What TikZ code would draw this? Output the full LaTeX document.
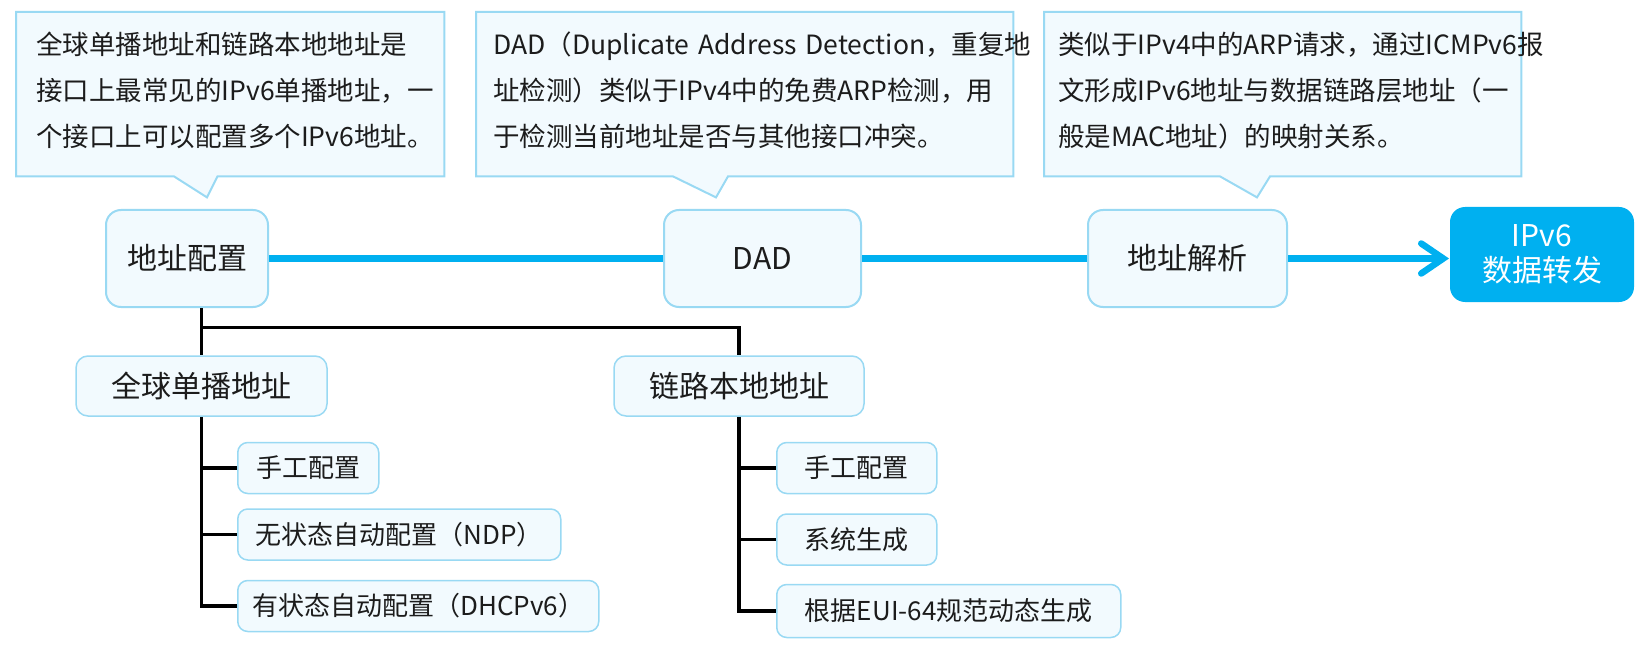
\documentclass[tikz,border=0pt]{standalone}
\usepackage{fontspec}
\setmainfont{Noto Sans CJK SC}
\usetikzlibrary{positioning,arrows.meta,backgrounds,calc}
\definecolor{edge}{RGB}{153,217,243}
\definecolor{pale}{RGB}{242,250,254}
\definecolor{sky}{RGB}{0,176,240}
\definecolor{ink}{RGB}{28,28,28}
\hyphenpenalty=10000

\begin{document}
\begin{tikzpicture}[
  x=1pt, y=-1pt, >={Straight Barb[length=22pt, width=30pt, line cap=round]},
  box/.style={draw=edge, line width=2pt, fill=pale, rounded corners=15pt, text=ink,
              font=\fontsize{30}{36}\selectfont, minimum height=97pt},
  sub/.style={box, rounded corners=12pt, line width=1.5pt, minimum height=60pt},
  leaf/.style={box, rounded corners=10pt, line width=1.5pt, minimum height=51pt,
               font=\fontsize{26}{30}\selectfont},
  note/.style={text=ink, font=\fontsize{26.5}{46}\selectfont, align=left,
               anchor=north west, inner ysep=0pt, minimum height=156pt},
  notebg/.style={draw=edge, line width=2pt, fill=pale},
  flow/.style={draw=sky, line width=6.5pt},
  tree/.style={draw=black, line width=3.5pt},
]
  \useasboundingbox (0,0) rectangle (1646,647);

  % main chain
  \node[box, minimum width=162pt] (cfg) at (187,258.5) {地址配置};
  \node[box, minimum width=197pt, right=394pt of cfg] (dad) {DAD};
  \node[box, minimum width=199pt, right=225pt of dad] (res) {地址解析};
  \node[box, draw=none, fill=sky, text=white, align=center, minimum width=184pt,
        minimum height=95pt, font=\fontsize{30}{35}\selectfont,
        right=161pt of res, yshift=4pt] (fwd) {IPv6\\数据转发};

  \draw[flow] (cfg.east) -- (dad.west);
  \draw[flow] (dad.east) -- (res.west);
  \draw[flow, ->] (res.east) -- (res.east -| fwd.west);

  % notes above the chain (frame runs 8pt below the text box)
  \node[note, text width=388pt, inner xsep=20pt] (cfgnote) at (16,12)
        {全球单播地址和链路本地地址是\\接口上最常见的IPv6单播地址，一\\个接口上可以配置多个IPv6地址。};
  \node[note, text width=503pt, inner xsep=17pt] (dadnote) at (476,12)
        {DAD（Duplicate~Address~Detection，重复地\\址检测）类似于IPv4中的免费ARP检测，用\\于检测当前地址是否与其他接口冲突。};
  \node[note, text width=449pt, inner xsep=14pt] (resnote) at (1044,12)
        {类似于IPv4中的ARP请求，通过ICMPv6报\\文形成IPv6地址与数据链路层地址（一\\般是MAC地址）的映射关系。};
  \begin{scope}[on background layer]
    \draw[notebg] (cfgnote.north west) -- (cfgnote.north east) -- ([yshift=-8pt]cfgnote.south east)
      -- ([xshift=201.5pt, yshift=-8pt]cfgnote.south west) -- ([xshift=191pt, yshift=-29pt]cfgnote.south west)
      -- ([xshift=158pt, yshift=-8pt]cfgnote.south west) -- ([yshift=-8pt]cfgnote.south west) -- cycle;
    \draw[notebg] (dadnote.north west) -- (dadnote.north east) -- ([yshift=-8pt]dadnote.south east)
      -- ([xshift=252pt, yshift=-8pt]dadnote.south west) -- ([xshift=240pt, yshift=-29pt]dadnote.south west)
      -- ([xshift=197pt, yshift=-8pt]dadnote.south west) -- ([yshift=-8pt]dadnote.south west) -- cycle;
    \draw[notebg] (resnote.north west) -- (resnote.north east) -- ([yshift=-8pt]resnote.south east)
      -- ([xshift=226pt, yshift=-8pt]resnote.south west) -- ([xshift=213pt, yshift=-29pt]resnote.south west)
      -- ([xshift=176pt, yshift=-8pt]resnote.south west) -- ([yshift=-8pt]resnote.south west) -- cycle;
  \end{scope}

  % address kinds
  \node[sub, minimum width=251pt] (gua) at (201.5,386) {全球单播地址};
  \node[sub, minimum width=250pt] (lla) at (739,386) {链路本地地址};

  \node[leaf, minimum width=141pt, anchor=west] (gman) at (237,468) {手工配置};
  \node[leaf, minimum width=323pt, below right=14pt and 0pt of gman.south west] (gndp)
        {无状态自动配置（NDP）};
  \node[leaf, minimum width=361pt, below right=19pt and 0pt of gndp.south west] (gdhcp)
        {有状态自动配置（DHCPv6）};

  \node[leaf, minimum width=160pt, anchor=west] (lman) at (776,468) {手工配置};
  \node[leaf, minimum width=160pt, below right=19pt and 0pt of lman.south west] (lsys)
        {系统生成};
  \node[leaf, minimum width=344pt, minimum height=53pt,
        below right=18pt and 0pt of lsys.south west] (leui) {根据EUI-64规范动态生成};

  \coordinate (fork) at ($(gua.north)+(0,-28)$);
  \draw[tree] (cfg.south -| gua) -- (gua.north);
  \draw[tree] (fork) -| (lla.north);
  \draw[tree] (gua.south) |- (gman.west) (gua.south) |- (gndp.west) (gua.south) |- (gdhcp.west);
  \draw[tree] (lla.south) |- (lman.west) (lla.south) |- (lsys.west) (lla.south) |- (leui.west);
\end{tikzpicture}
\end{document}
